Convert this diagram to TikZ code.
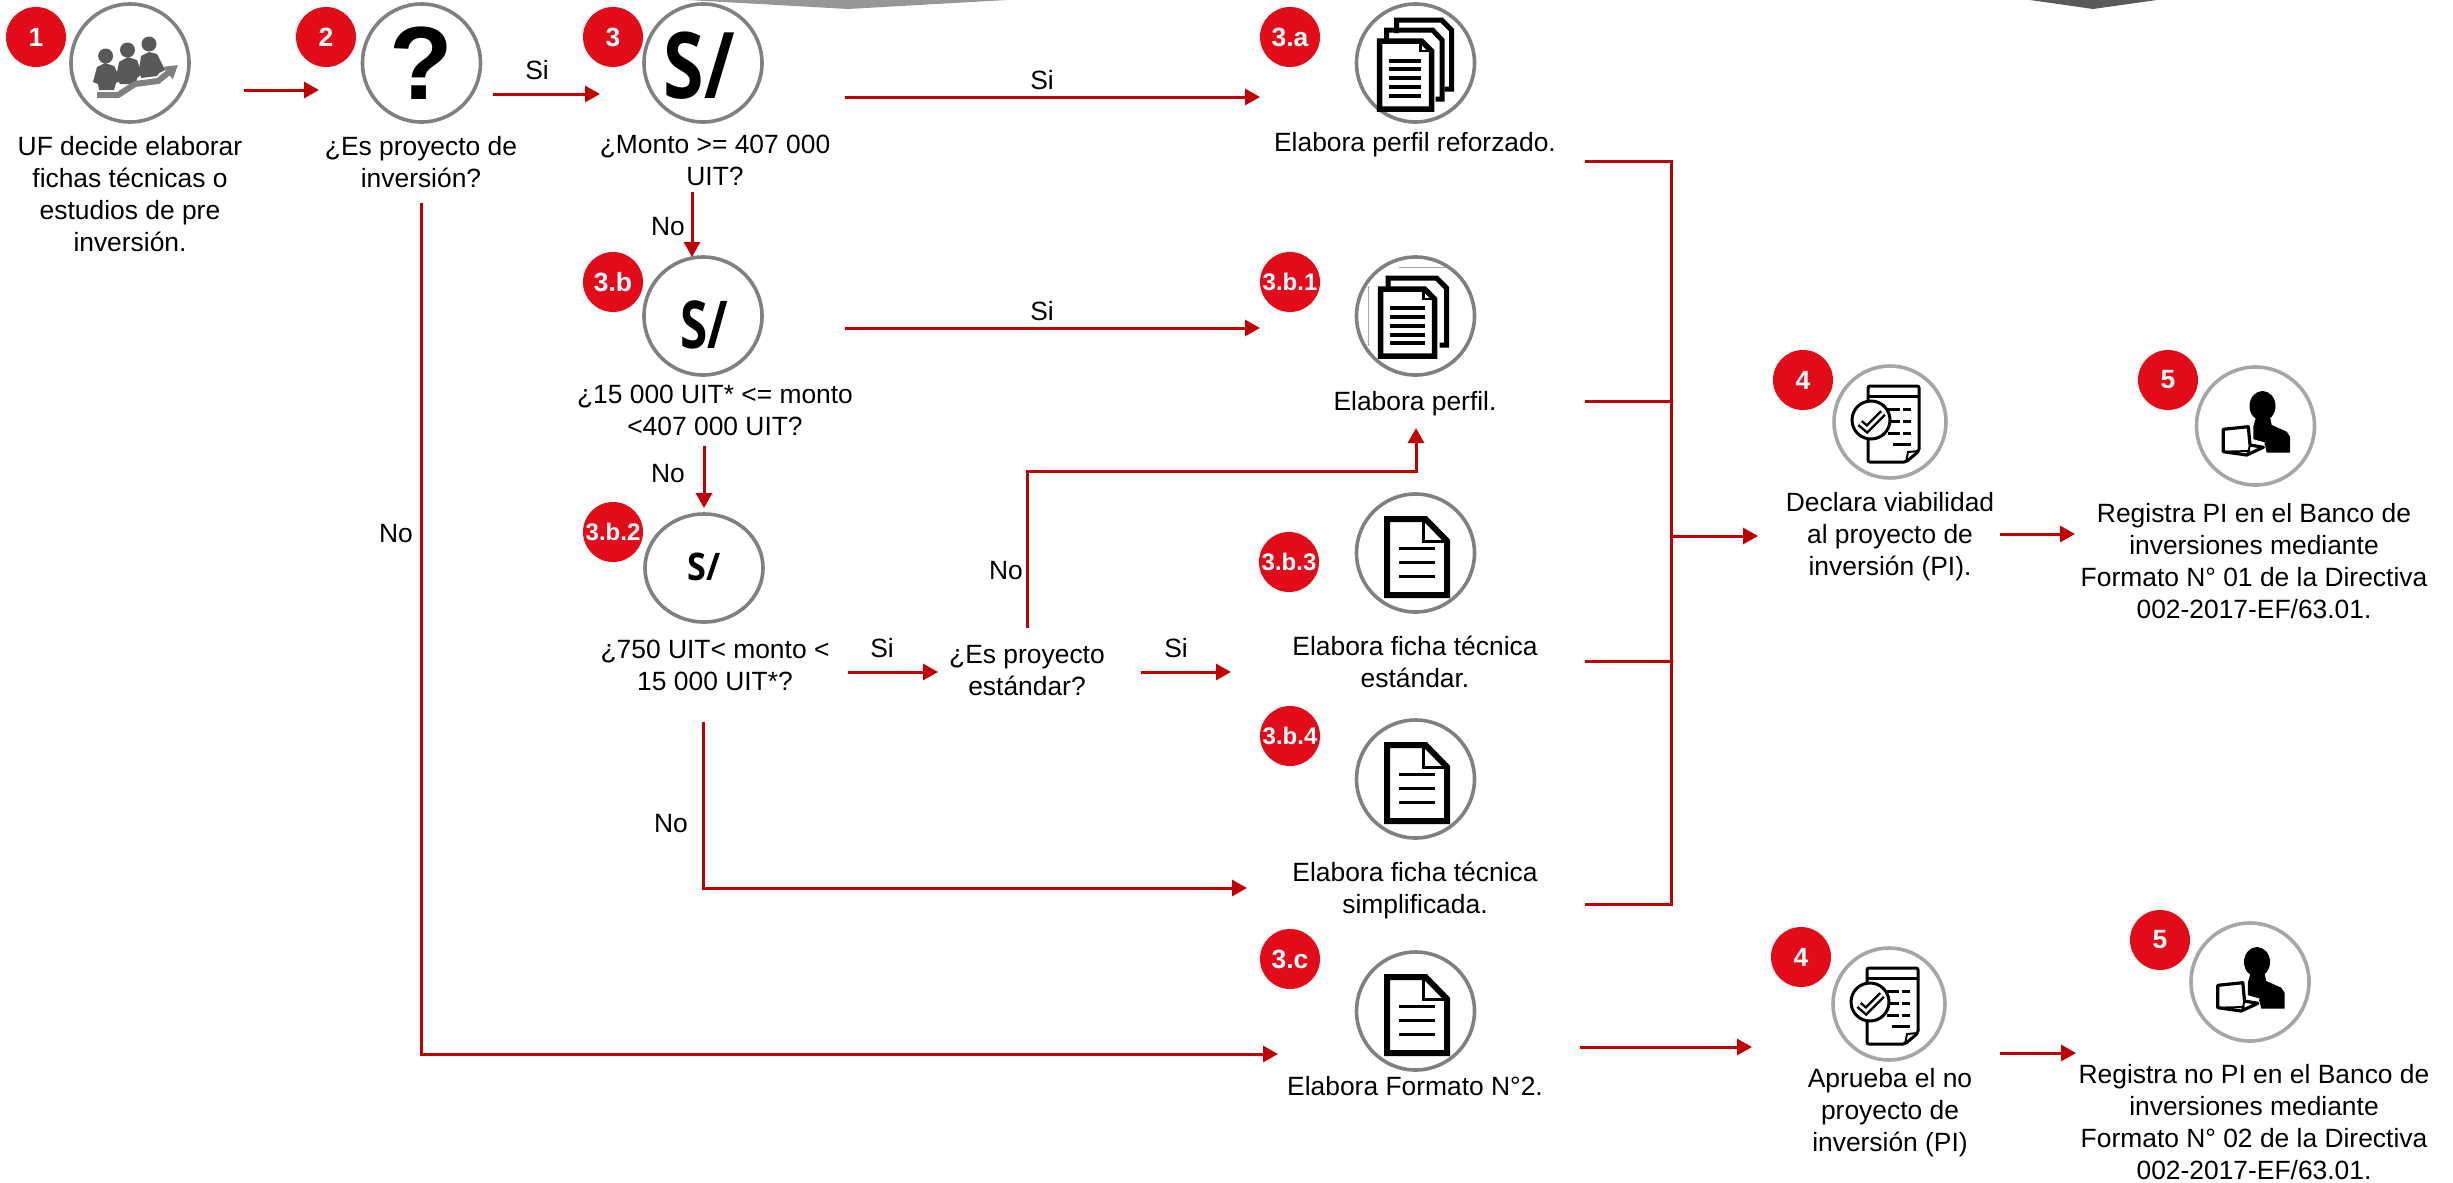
\documentclass[tikz,border=0pt]{standalone}
\usepackage{graphicx}
\usepackage{fontspec}
\setmainfont{Liberation Sans}
\newfontfamily\solfont{Open Sans}
\usetikzlibrary{arrows.meta,shapes.geometric}
\definecolor{flow}{HTML}{C00000}
\definecolor{badgered}{HTML}{E30A1A}
\definecolor{ringdark}{HTML}{808080}
\definecolor{ringlight}{HTML}{A6A6A6}
\definecolor{peoplegrey}{HTML}{595959}
\tikzset{
  x=1pt,y=-1pt,
  ring/.style={circle,draw=ringdark,line width=3.6pt,fill=white,minimum size=118pt,inner sep=0pt},
  ringb/.style={ring,draw=ringlight},
  badge/.style={circle,fill=badgered,text=white,minimum size=60pt,inner sep=0pt,font=\fontsize{26.4}{30}\selectfont\bfseries},
  badgesmall/.style={badge,font=\fontsize{24}{28}\selectfont\bfseries},
  label/.style={align=center,text=black,inner sep=0pt,font=\fontsize{26.4}{32}\selectfont},
  soltext/.style={inner sep=0pt,text=black},
  flowline/.style={draw=flow,line width=3pt},
  flowarrow/.style={flowline,-{Triangle[length=15pt,width=16pt]}},
  docone/.pic={
    \draw[black,line width=6pt,miter limit=10] (-28.5,-34) -- (10,-34) -- (31.5,-12) -- (31.5,42) -- (-28.5,42) -- cycle;
    \draw[black,line width=3pt] (8,-36) -- (8,-12) -- (32,-12);
    \draw[black,line width=3pt] (-16.5,-5) -- (19.5,-5) (-16.5,9) -- (19.5,9) (-16.5,23) -- (19.5,23);
  },
  docthree/.pic={
    \draw[black,line width=5pt] (-19,-30) -- (-19,-43) -- (26,-43) -- (36,-33) -- (36,26) -- (29,26);
    \draw[black,line width=5pt] (-29,-18) -- (-29,-33) -- (17,-33) -- (26.5,-23) -- (26.5,36) -- (20,36);
    \draw[black,fill=white,line width=5.5pt] (-36,-22) -- (6,-22) -- (16,-12) -- (16,46) -- (-36,46) -- cycle;
    \draw[black,line width=2.5pt] (5,-23) -- (5,-12) -- (16,-12);
    \draw[black,line width=3.2pt] (-27,-2) -- (5.5,-2) (-27,6) -- (5.5,6) (-27,15) -- (5.5,15) (-27,24) -- (5.5,24) (-27,33) -- (5.5,33);
  },
  doctwo/.pic={
    \draw[black!35,line width=.6pt] (-17,-49) -- (30,-49) (-47.5,-30) -- (-47.5,30);
    \draw[black,line width=5pt] (-27.5,-27) -- (-27.5,-38) -- (21,-38) -- (31,-28) -- (31,29) -- (24,29);
    \draw[black,fill=white,line width=5.5pt] (-35,-27) -- (9,-27) -- (19,-17) -- (19,40) -- (-35,40) -- cycle;
    \draw[black,line width=2.5pt] (8,-28) -- (8,-17) -- (19,-17);
    \draw[black,line width=3.2pt] (-25.5,-8) -- (9,-8) (-25.5,1) -- (9,1) (-25.5,10) -- (9,10) (-25.5,19) -- (9,19) (-25.5,27) -- (9,27);
  },
  checkdoc/.pic={
    \draw[black,line width=3pt,rounded corners=2pt] (-22,-36) -- (29,-36) -- (29,29) -- (16,40) -- (-22,40) -- cycle;
    \draw[black,line width=3pt] (-22,-26) -- (29,-26);
    \draw[black,line width=2pt] (29,29) -- (18,30) -- (16,40);
    \draw[black,line width=3pt] (-2,-13) -- (10,-13) (13,-13) -- (21,-13) (-2,-1) -- (10,-1) (13,-1) -- (21,-1) (-2,11) -- (10,11) (13,11) -- (21,11) (3,22) -- (21,22);
    \draw[black,fill=white,line width=3pt] (-19,-2) circle[radius=19];
    \draw[black,line width=7.5pt,miter limit=3] (-30,1) -- (-23,7) -- (-7,-9);
    \draw[white,line width=2.6pt,miter limit=3] (-30,1) -- (-23,7) -- (-7,-9);
  },
  personlap/.pic={
    \fill[black] (7,-20) ellipse[x radius=13,y radius=15];
    \fill[black] (0.5,-8.7) -- (-2.2,0.7) -- (-2.2,14) -- (9.5,19) -- (11.2,26.7) -- (34.5,26.7) -- (34.5,10.7) -- (31.2,5.7) -- (16.2,-1) -- (14.5,-8.7) -- cycle;
    \draw[white,line width=3pt] (-5,14) -- (9,18);
    \draw[black,line width=3.2pt,fill=white,line join=round] (-32.2,3.3) -- (-7.2,0.7) -- (-5.5,19) -- (7.8,21.3) -- (-8.8,29) -- (-32.2,25.7) -- cycle;
    \draw[black,line width=2pt] (-32.2,25.7) -- (-5.5,25) (-5.5,19) -- (-8,29);
  },
}
\begin{document}
\begin{tikzpicture}
\useasboundingbox (0,0) rectangle (2453,1183);
% top chevrons
\fill[black!41] (688,0) -- (848,9) -- (1007,0) -- cycle;
\fill[peoplegrey] (2030,0) -- (2093,9) -- (2157,0) -- cycle;

% ring nodes
\node[ring] (r1) at (130,63) {};
\node[ring] (r2) at (421.5,63) {\fontsize{104}{104}\selectfont\bfseries ?};
\node[ring] (r3) at (703,63) {};
\node[ring] (r3b) at (703,316) {};
\node[ellipse,draw=ringdark,line width=3.6pt,fill=white,minimum width=118pt,minimum height=108pt,inner sep=0pt] (r3b2) at (704,568) {};
\node[ring] (r3a) at (1415.5,63) {};
\node[ring] (r3b1) at (1415.5,316) {};
\node[ring] (r3b3) at (1415.5,553) {};
\node[ring] (r3b4) at (1415.5,779) {};
\node[ring] (r3c) at (1415.5,1011) {};
\node[ringb,minimum size=112pt] (r4) at (1890,422) {};
\node[ringb] (r5) at (2255.5,426) {};
\node[ringb,minimum size=112pt] (r4n) at (1889,1004) {};
\node[ringb] (r5n) at (2250,982) {};

% currency marks
\node[soltext] (s3) at (699,66) {\solfont\fontsize{92}{92}\selectfont\bfseries\scalebox{.8}[1]{S/}};
\node[soltext] (s3b) at (704,325) {\solfont\fontsize{66}{66}\selectfont\bfseries\scalebox{.75}[1]{S/}};
\node[soltext] (s3b2) at (704,567) {\solfont\fontsize{38}{38}\selectfont\bfseries\scalebox{.9}[1]{S/}};

% icons
\begin{scope}[peoplegrey]
  \fill (105.6,56) ellipse[x radius=7.5,y radius=7.5];
  \fill (127.5,50) ellipse[x radius=7.5,y radius=7.5];
  \fill (149,44) ellipse[x radius=7.5,y radius=7.5];
  \fill (93,82) -- (97,67) -- (105,63) -- (114,66) -- (121,80) -- (116,83) -- (114,90) -- (99,90) -- (98,84) -- cycle;
  \fill (116,78) -- (119,62) -- (128,57) -- (137,60) -- (142,74) -- (137,78) -- (136,84) -- (120,84) -- cycle;
  \fill (139,70) -- (141,56) -- (149,52) -- (157,54) -- (165,70) -- (159,73) -- (157,76) -- (141,78) -- cycle;
  \draw[line width=6pt,draw=black!50,-{Triangle[length=13pt,width=15pt]}] (97,95) -- (118,95) -- (135,84) -- (158,81) -- (178,65);
\end{scope}
\pic at (r3a.center) {docthree};
\pic at (r3b1.center) {doctwo};
\pic at (r3b3.center) {docone};
\pic at (r3b4.center) {docone};
\pic at (r3c.center) {docone};
\pic at (r4.center) {checkdoc};
\pic at (r4n.center) {checkdoc};
\pic at (r5.center) {personlap};
\pic at (r5n.center) {personlap};

% badges
\node[badge] (b1) at (36,37) {1};
\node[badge] (b2) at (326,37) {2};
\node[badge] (b3) at (613,37) {3};
\node[badge] (b3b) at (613,282) {3.b};
\node[badgesmall] (b3b2) at (613,532) {3.b.2};
\node[badge] (b3a) at (1290,37) {3.a};
\node[badgesmall] (b3b1) at (1290,282) {3.b.1};
\node[badgesmall] (b3b3) at (1289,562) {3.b.3};
\node[badgesmall] (b3b4) at (1290,736) {3.b.4};
\node[badge] (b3c) at (1290,959) {3.c};
\node[badge] (b4) at (1803,380) {4};
\node[badge] (b5) at (2168,380) {5};
\node[badge] (b4n) at (1801,957) {4};
\node[badge] (b5n) at (2160,940) {5};

% texts
\node[label] (t1) at (130,194) {UF decide elaborar\\fichas técnicas o\\estudios de pre\\inversión.};
\node[label] (t2) at (421,162) {¿Es proyecto de\\inversión?};
\node[label] (t3) at (715,160) {¿Monto >= 407 000\\UIT?};
\node[label] (t3b) at (715,410) {¿15 000 UIT* <= monto\\<407 000 UIT?};
\node[label] (t3b2) at (715,665) {¿750 UIT< monto <\\15 000 UIT*?};
\node[label] (tstd) at (1027,671) {¿Es proyecto\\estándar?};
\node[label] (t3a) at (1415,145) {Elabora perfil reforzado.};
\node[label] (t3b1) at (1415,404) {Elabora perfil.};
\node[label] (t3b3) at (1415,662) {Elabora ficha técnica\\estándar.};
\node[label] (t3b4) at (1415,891) {Elabora ficha técnica\\simplificada.};
\node[label] (t3c) at (1415,1086) {Elabora Formato N°2.};
\node[label] (t4) at (1890,537) {Declara viabilidad\\al proyecto de\\inversión (PI).};
\node[label] (t5) at (2254,561) {Registra PI en el Banco de\\inversiones mediante\\Formato N° 01 de la Directiva\\002-2017-EF/63.01.};
\node[label] (t4n) at (1890,1113) {Aprueba el no\\proyecto de\\inversión (PI)};
\node[label] (t5n) at (2254,1122) {Registra no PI en el Banco de\\inversiones mediante\\Formato N° 02 de la Directiva\\002-2017-EF/63.01.};

% connector ports
\coordinate (p1o) at (244,90); \coordinate (p2i) at (319,90);
\coordinate (p2o) at (493,94); \coordinate (p3i) at (600,94);
\coordinate (p3o) at (845,97); \coordinate (p3ai) at (1260,97);
\coordinate (p3d) at (692,192); \coordinate (p3bi) at (692,257);
\coordinate (p3bo) at (845,328); \coordinate (p3b1i) at (1260,328);
\coordinate (p3bd) at (704,446); \coordinate (p3b2i) at (704,508);
\coordinate (p3b2o) at (848,672); \coordinate (pstdi) at (938,672);
\coordinate (pstdo) at (1141,672); \coordinate (p3b3i) at (1231,672);
\coordinate (pstdu) at (1027,628); \coordinate (pbend) at (1416,471); \coordinate (pperfil) at (1416,428);
\coordinate (p3b2d) at (703,722); \coordinate (p3b4i) at (1247,888);
\coordinate (p2d) at (421,203); \coordinate (p3ci) at (1278,1054);
\coordinate (p3co) at (1580,1047); \coordinate (p4ni) at (1752,1047);
\coordinate (p4no) at (2000,1053); \coordinate (p5ni) at (2076,1053);
\coordinate (p4o) at (2000,534); \coordinate (p5i) at (2075,534);
\coordinate (ba) at (1585,161); \coordinate (bb) at (1585,401);
\coordinate (bc) at (1585,661); \coordinate (bd) at (1585,904);
\coordinate (bustop) at (1671,161); \coordinate (busb) at (1671,401);
\coordinate (busmid) at (1671,536); \coordinate (busc) at (1671,661);
\coordinate (busbot) at (1671,904); \coordinate (p4i) at (1758,536);

% connectors
\draw[flowarrow] (p1o) -- (p2i);
\draw[flowarrow] (p2o) -- (p3i);
\draw[flowarrow] (p3o) -- (p3ai);
\draw[flowarrow] (p3d) -- (p3bi);
\draw[flowarrow] (p3bo) -- (p3b1i);
\draw[flowarrow] (p3bd) -- (p3b2i);
\draw[flowarrow] (p3b2o) -- (pstdi);
\draw[flowarrow] (pstdo) -- (p3b3i);
\draw[flowarrow] (pstdu) |- (pbend) -- (pperfil);
\draw[flowarrow] (p3b2d) |- (p3b4i);
\draw[flowarrow] (p2d) |- (p3ci);
\draw[flowarrow] (p3co) -- (p4ni);
\draw[flowarrow] (p4no) -- (p5ni);
\draw[flowarrow] (p4o) -- (p5i);
\draw[flowline] (ba) -- (bustop) -- (busbot) -- (bd);
\draw[flowline] (bb) -- (busb);
\draw[flowline] (bc) -- (busc);
\draw[flowarrow] (busmid) -- (p4i);

% connector labels
\node[label] (lsi1) at (537,70) {Si};
\node[label] (lsi2) at (1042,80) {Si};
\node[label] (lno1) at (668,227) {No};
\node[label] (lsi3) at (1042,311) {Si};
\node[label] (lno2) at (668,474) {No};
\node[label] (lsi4) at (882,648) {Si};
\node[label] (lsi5) at (1176,648) {Si};
\node[label] (lno3) at (1006,571) {No};
\node[label] (lno4) at (671,824) {No};
\node[label] (lno5) at (396,534) {No};
\end{tikzpicture}
\end{document}
